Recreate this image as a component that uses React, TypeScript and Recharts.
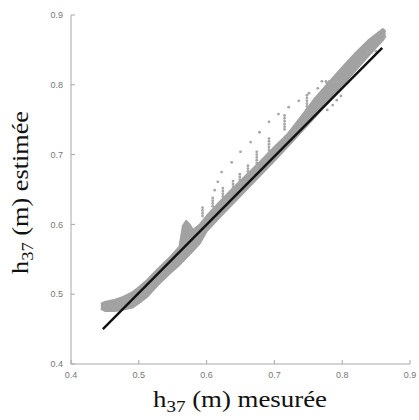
import React from 'react';
import { ComposedChart, XAxis, YAxis, Area, Scatter, Label } from 'recharts';

const xTicks = [0.4, 0.5, 0.6, 0.7, 0.8, 0.9];
const yTicks = [0.4, 0.5, 0.6, 0.7, 0.8, 0.9];

// dense band of estimated vs measured values (lower / upper envelope)
const bandX = [0.444, 0.45, 0.465, 0.477, 0.491, 0.5, 0.512, 0.527, 0.546, 0.56, 0.565, 0.57, 0.575, 0.58, 0.59, 0.6, 0.62, 0.64, 0.66, 0.68, 0.7, 0.72, 0.74, 0.76, 0.78, 0.8, 0.82, 0.84, 0.86, 0.864];
const bandLow = [0.479, 0.476, 0.476, 0.478, 0.481, 0.487, 0.496, 0.512, 0.53, 0.542, 0.547, 0.552, 0.557, 0.562, 0.573, 0.59, 0.611, 0.631, 0.651, 0.671, 0.691, 0.712, 0.733, 0.754, 0.776, 0.799, 0.821, 0.843, 0.864, 0.87];
const bandHigh = [0.486, 0.489, 0.492, 0.496, 0.503, 0.51, 0.52, 0.535, 0.553, 0.568, 0.598, 0.605, 0.6, 0.592, 0.6, 0.612, 0.633, 0.653, 0.672, 0.691, 0.711, 0.73, 0.755, 0.781, 0.803, 0.825, 0.846, 0.865, 0.88, 0.876];

// sparse points
const diagonalX = [0.612, 0.6165, 0.622, 0.637, 0.65, 0.665, 0.678, 0.692, 0.706, 0.721, 0.736, 0.751, 0.764, 0.777];
const diagonalY = [0.649, 0.661, 0.675, 0.689, 0.704, 0.718, 0.732, 0.747, 0.758, 0.768, 0.777, 0.788, 0.795, 0.803];
const topRowX = [0.77, 0.776, 0.781, 0.787, 0.793];
const topRowY = [0.805, 0.805, 0.805, 0.805, 0.804];
const belowX = [0.778, 0.786, 0.792, 0.798, 0.838, 0.844, 0.85];
const belowY = [0.764, 0.771, 0.778, 0.784, 0.847, 0.847, 0.848];
const streakX = [
  0.594, 0.594, 0.594, 0.594,
  0.609, 0.609, 0.609, 0.609,
  0.624, 0.624, 0.624, 0.624,
  0.639, 0.639, 0.639, 0.639,
  0.649, 0.649, 0.649, 0.649,
  0.661, 0.661, 0.661, 0.661,
  0.674, 0.674, 0.674, 0.674, 0.674, 0.674, 0.674, 0.674,
  0.692, 0.692, 0.692, 0.692, 0.692, 0.692,
  0.715, 0.715, 0.715, 0.715, 0.715, 0.715,
  0.748, 0.748, 0.748, 0.748, 0.748, 0.748,
];
const streakY = [
  0.612, 0.616, 0.62, 0.624,
  0.626, 0.63, 0.634, 0.638,
  0.64, 0.644, 0.648, 0.652,
  0.65, 0.654, 0.658, 0.662,
  0.66, 0.664, 0.668, 0.672,
  0.672, 0.676, 0.68, 0.684,
  0.676, 0.68, 0.684, 0.688, 0.692, 0.696, 0.7, 0.704,
  0.703, 0.707, 0.711, 0.715, 0.719, 0.723,
  0.736, 0.74, 0.744, 0.748, 0.752, 0.756,
  0.765, 0.769, 0.773, 0.777, 0.781, 0.785,
];

// regression line
const fitX = [0.447, 0.859];
const fitY = [0.45, 0.853];

const zip = (xs: number[], ys: number[]) => xs.map((x, i) => ({ x, y: ys[i] }));

const bandData = bandX.map((x, i) => ({ x, band: [bandLow[i], bandHigh[i]] }));
const outliers = [
  ...zip(diagonalX, diagonalY),
  ...zip(topRowX, topRowY),
  ...zip(belowX, belowY),
  ...zip(streakX, streakY),
];
const fitData = zip(fitX, fitY);

const AXIS = '#a8a8a8';
const TICK_TEXT = { fontSize: 9, fill: '#777', fontFamily: 'Liberation Sans, Arial, sans-serif' };
const SERIF = 'Liberation Serif, Times New Roman, serif';

const Dot = (p: any) => <circle cx={p.cx} cy={p.cy} r={1.4} fill="#a6a6a6" />;
const NoShape = () => <g />;

const XTitle = (props: any) => {
  const vb = props.viewBox || {};
  const cx = 240;
  const y = vb.y + 43;
  return (
    <text x={cx} y={y} textAnchor="middle" fontFamily={SERIF} fontSize={24} fill="#111" textLength={174} lengthAdjust="spacingAndGlyphs">
      <tspan>h</tspan>
      <tspan fontSize={17} dy={5}>37</tspan>
      <tspan dy={-5}> (m) mesurée</tspan>
    </text>
  );
};

const YTitle = (props: any) => {
  const vb = props.viewBox || {};
  const cx = 28;
  const cy = vb.y + vb.height / 2 + 3;
  return (
    <text x={cx} y={cy} transform={`rotate(-90, ${cx}, ${cy})`} textAnchor="middle" fontFamily={SERIF} fontSize={24} fill="#111" textLength={163} lengthAdjust="spacingAndGlyphs">
      <tspan>h</tspan>
      <tspan fontSize={17} dy={5}>37</tspan>
      <tspan dy={-5}> (m) estimée</tspan>
    </text>
  );
};

const fmt = (v: number) => v.toFixed(1);

export default function App() {
  return (
    <div style={{ position: 'absolute', left: 0, top: 0, width: 419, height: 420, background: '#fff' }}>
      <ComposedChart width={419} height={420} data={bandData} margin={{ top: 15, right: 9, bottom: 0, left: 0 }}>
        <XAxis
          xAxisId="b"
          type="number"
          dataKey="x"
          domain={[0.4, 0.9]}
          ticks={xTicks}
          allowDataOverflow
          height={56}
          stroke={AXIS}
          tickSize={-4}
          tickMargin={12}
          tick={TICK_TEXT}
          tickFormatter={fmt}
          label={<Label content={XTitle} />}
        />
        <XAxis
          xAxisId="t"
          orientation="top"
          type="number"
          dataKey="x"
          domain={[0.4, 0.9]}
          ticks={xTicks}
          allowDataOverflow
          height={0}
          stroke={AXIS}
          tickSize={-4}
          tick={false}
        />
        <YAxis
          yAxisId="l"
          type="number"
          domain={[0.4, 0.9]}
          ticks={yTicks}
          allowDataOverflow
          width={71}
          stroke={AXIS}
          tickSize={-4}
          tickMargin={12}
          tick={TICK_TEXT}
          tickFormatter={fmt}
          label={<Label content={YTitle} />}
        />
        <YAxis
          yAxisId="r"
          orientation="right"
          type="number"
          domain={[0.4, 0.9]}
          ticks={yTicks}
          allowDataOverflow
          width={0}
          stroke={AXIS}
          tickSize={-4}
          tick={false}
        />
        <Area
          xAxisId="b"
          yAxisId="l"
          dataKey="band"
          type="linear"
          fill="#a2a2a2"
          fillOpacity={1}
          stroke="#a2a2a2"
          strokeWidth={2}
          strokeLinejoin="round"
          isAnimationActive={false}
          dot={false}
          activeDot={false}
        />
        <Scatter
          xAxisId="b"
          yAxisId="l"
          data={outliers}
          dataKey="y"
          shape={Dot}
          isAnimationActive={false}
        />
        <Scatter
          xAxisId="b"
          yAxisId="l"
          data={fitData}
          dataKey="y"
          shape={NoShape}
          line={{ stroke: '#111', strokeWidth: 2.4 }}
          isAnimationActive={false}
        />
      </ComposedChart>
    </div>
  );
}
